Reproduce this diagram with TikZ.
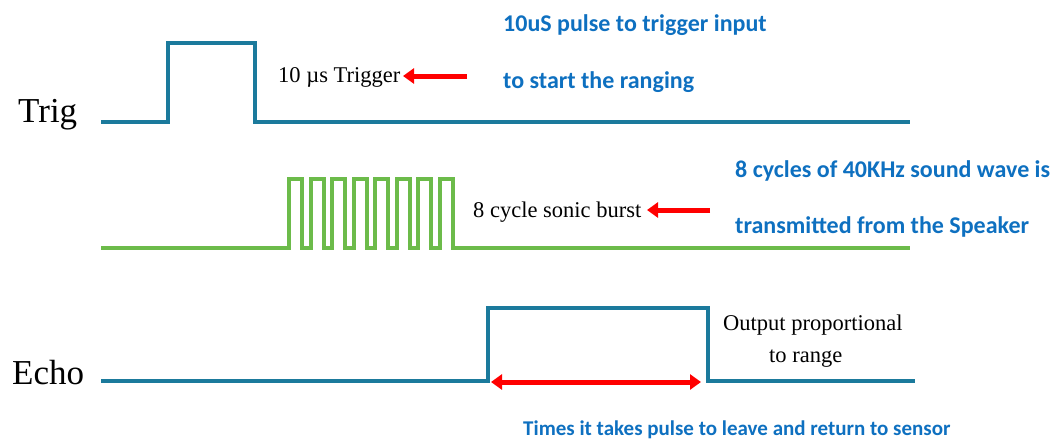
\documentclass[tikz,border=0pt]{standalone}
\usepackage{fontspec}
\setmainfont{Liberation Serif}
\newfontfamily\calfont{Carlito}
\usetikzlibrary{arrows.meta}
\definecolor{teal1}{HTML}{1B7A9C}
\definecolor{green1}{HTML}{6CBB4A}
\definecolor{blue1}{HTML}{0E70C0}
\definecolor{red1}{HTML}{FF0000}
\tikzset{
  wave/.style={line width=4pt, line join=miter},
  lbl/.style={inner sep=0pt, anchor=base west, font=\fontsize{22.5}{26}\selectfont},
  sig/.style={inner sep=0pt, anchor=base west, font=\fontsize{35}{40}\selectfont},
  note/.style={inner sep=0pt, anchor=base west, text=blue1, font=\calfont\bfseries\fontsize{24}{28}\selectfont},
  redarrow/.style={red1, line width=5pt, -{Triangle[length=11pt,width=15pt]}},
  redboth/.style={red1, line width=5pt, {Triangle[length=11pt,width=15pt]}-{Triangle[length=11pt,width=15pt]}},
}
\begin{document}
\begin{tikzpicture}[x=1pt,y=-1pt]
\useasboundingbox (0,0) rectangle (1062,439);
% Trig
\node[sig] (trig) at (18,122) {Trig};
\draw[wave, teal1] (101,122) -- (168,122) -- (168,43) -- (255,43) -- (255,122) -- (910,122);
\node[lbl] (trigtxt) at (278,82) {10 µs Trigger};
\coordinate (ta) at (467,76);
\coordinate (tb) at (403,76);
\draw[redarrow] (ta) -- (tb);
\node[note] (n1) at (503,31) {10uS pulse to trigger input};
\node[note] (n2) at (503,88) {to start the ranging};
% Burst
\draw[wave, green1] (101,248)
  \foreach \k in {0,...,7} { -- ({289+21.5*\k},248) -- ({289+21.5*\k},179) -- ({302+21.5*\k},179) -- ({302+21.5*\k},248) }
  -- (910,248);
\node[lbl] (bursttxt) at (473,217) {8 cycle sonic burst};
\coordinate (ba) at (710,210);
\coordinate (bb) at (647,210);
\draw[redarrow] (ba) -- (bb);
\node[note] (n3) at (735,177) {8 cycles of 40KHz sound wave is};
\node[note] (n4) at (735,233) {transmitted from the Speaker};
% Echo
\node[sig] (echo) at (12,384) {Echo};
\draw[wave, teal1] (101,381) -- (488,381) -- (488,308) -- (708,308) -- (708,381) -- (915,381);
\node[lbl] (out1) at (723,330) {Output proportional};
\node[lbl] (out2) at (769,362) {to range};
\coordinate (ea) at (491,382);
\coordinate (eb) at (701,382);
\draw[redboth] (ea) -- (eb);
\node[note, font=\calfont\bfseries\fontsize{21}{24}\selectfont] (n5) at (523,435) {Times it takes pulse to leave and return to sensor};
\end{tikzpicture}
\end{document}
